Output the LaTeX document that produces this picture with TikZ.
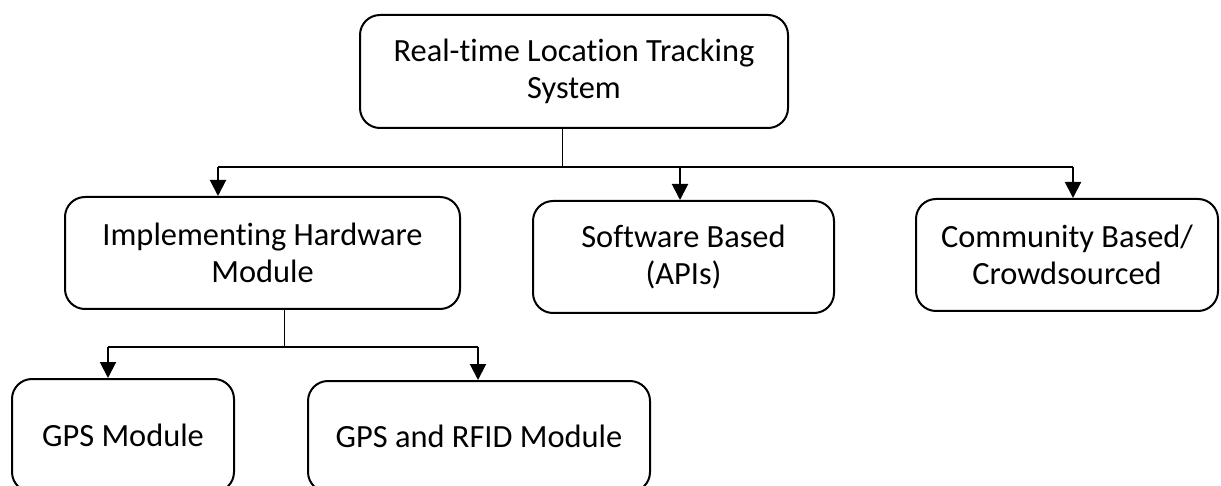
\documentclass[tikz,border=0pt]{standalone}
\usepackage{fontspec}
\setmainfont{Carlito}[Ligatures=NoCommon]
\usetikzlibrary{arrows.meta}
\begin{document}
\begin{tikzpicture}[x=1pt,y=-1pt,
  box/.style={draw, line width=2pt, rounded corners=20pt, align=center,
    inner sep=0pt, font=\fontsize{32.4}{37.5}\selectfont},
  link/.style={line width=2pt},
  stem/.style={line width=1pt},
  arr/.style={line width=2pt, -{Triangle[width=16pt,length=16pt]}}]
\useasboundingbox (0,0) rectangle (1221,486);
% boxes
\node[box, minimum width=428pt, minimum height=113pt] (top) at (574,71.5)
  {Real-time Location Tracking\\System};
\node[box, minimum width=395pt, minimum height=112pt] (hw) at (262.5,253)
  {Implementing Hardware\\Module};
\node[box, minimum width=301pt, minimum height=112pt] (sw) at (683.5,257)
  {Software Based\\(APIs)};
\node[box, minimum width=302pt, minimum height=112pt] (cs) at (1067,255)
  {Community Based/\\Crowdsourced};
\node[box, minimum width=222pt, minimum height=113pt] (gps) at (123,435.5)
  {GPS Module};
\node[box, minimum width=342pt, minimum height=111pt] (rfid) at (479,436.5)
  {GPS and RFID Module};
% first level bus
\coordinate (j1) at (562,167);
\coordinate (a1) at (218,167);
\coordinate (a2) at (680,167);
\coordinate (a3) at (1073,167);
\draw[stem] (top.south -| j1) -- (j1);
\draw[link] (a1) -- (a3);
\draw[arr] (a1) -- (a1 |- hw.north);
\draw[arr] (a2) -- (a2 |- sw.north);
\draw[arr] (a3) -- (a3 |- cs.north);
% second level bus
\coordinate (j2) at (284,347);
\coordinate (b1) at (108,347);
\coordinate (b2) at (478,347);
\draw[stem] (hw.south -| j2) -- (j2);
\draw[link] (b1) -- (b2);
\draw[arr] (b1) -- (b1 |- gps.north);
\draw[arr] (b2) -- (b2 |- rfid.north);
\end{tikzpicture}
\end{document}
